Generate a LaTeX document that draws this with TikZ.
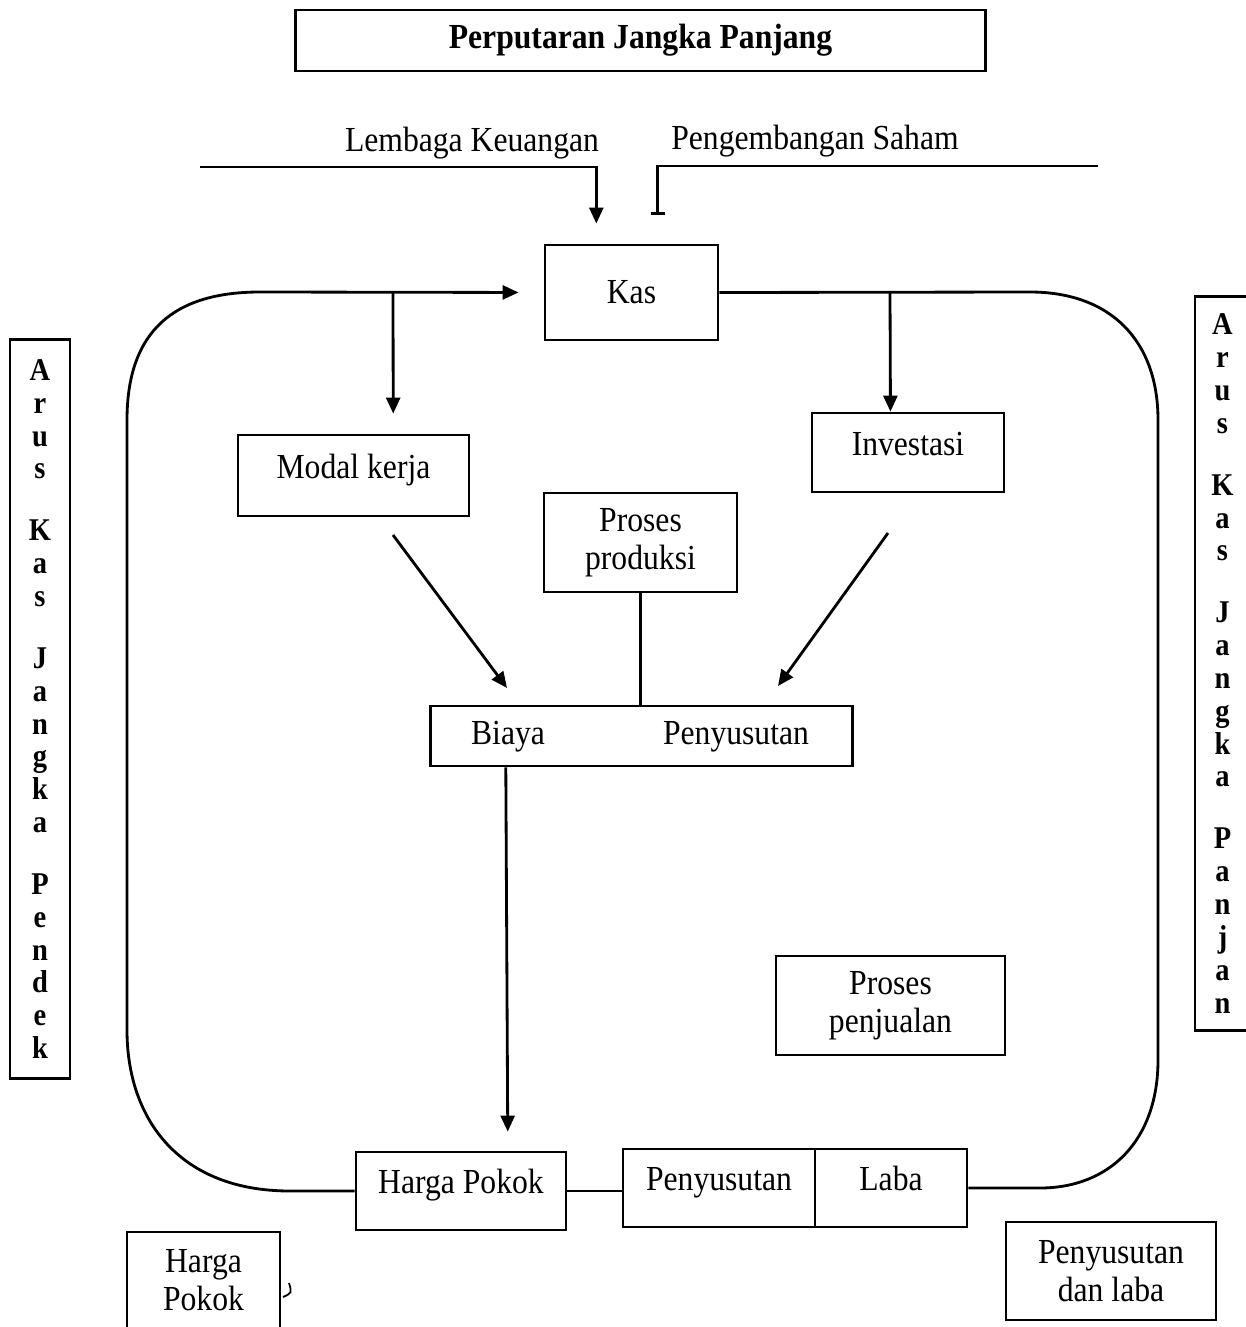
\documentclass[tikz,border=0pt]{standalone}
\usepackage{fontspec}
\setmainfont{Liberation Serif}[FakeStretch=0.9]
\usetikzlibrary{arrows.meta, calc}

\begin{document}
\begin{tikzpicture}[x=0.01cm, y=-0.01cm,
	kotak/.style={draw, line width=0.8pt, align=center, inner sep=0pt, font=\fontsize{10}{10.8}\selectfont},
	satu/.style={text height=0.25cm, text depth=0.2cm},
	teks/.style={inner sep=0pt, font=\fontsize{10}{10.8}\selectfont},
	garis/.style={line width=0.8pt},
	panah/.style={line width=0.8pt, -{Triangle[length=0.16cm, width=0.14cm]}},
	tegak/.style={draw, line width=0.8pt, align=center, inner sep=0pt, font=\fontsize{9}{9.33}\selectfont\bfseries}]
	\useasboundingbox (0,0) rectangle (1245,1327);
	\node[kotak, minimum width=6.89cm, minimum height=0.61cm, font=\fontsize{10}{12}\selectfont\bfseries] (judul) at (640.5,40.5) {Perputaran Jangka Panjang};
	\node[teks] (lembaga) at (472,143) {Lembaga Keuangan};
	\node[teks] (saham) at (815,141) {Pengembangan Saham};
	\node[kotak, minimum width=1.73cm, minimum height=0.95cm] (kas) at (631.5,292.5) {Kas};
	\node[kotak, satu, minimum width=2.31cm, minimum height=0.81cm] (modal) at (353.5,475.5) {Modal kerja};
	\node[kotak, satu, minimum width=1.92cm, minimum height=0.79cm] (invest) at (908,452.5) {Investasi};
	\node[kotak, minimum width=1.93cm, minimum height=0.99cm] (produksi) at (640.5,542.5) {Proses\\produksi};
	\node[kotak, minimum width=4.21cm, minimum height=0.60cm] (biayabox) at (641.5,736) {};
	\node[teks] (biaya) at (508,737) {Biaya};
	\node[teks] (susutbiaya) at (736,737) {Penyusutan};
	\node[kotak, minimum width=2.29cm, minimum height=0.99cm] (penjualan) at (890.5,1005.5) {Proses\\penjualan};
	\node[kotak, satu, minimum width=2.10cm, minimum height=0.78cm] (hpokok) at (461,1191) {Harga Pokok};
	\node[kotak, satu, minimum width=1.92cm, minimum height=0.78cm] (susut) at (719,1188) {Penyusutan};
	\node[kotak, satu, minimum width=1.52cm, minimum height=0.78cm] (laba) at (891,1188) {Laba};
	\node[kotak, minimum width=1.53cm, minimum height=0.96cm] (hpbawah) at (203.5,1280) {Harga\\Pokok};
	\node[kotak, minimum width=2.10cm, minimum height=0.98cm] (susutlaba) at (1111,1271) {Penyusutan\\dan laba};
	\node[tegak, minimum width=0.60cm, minimum height=7.38cm] (pendek) at (40,709) {A\\r\\u\\s\\[8.3pt]K\\a\\s\\[8.3pt]J\\a\\n\\g\\k\\a\\[8.3pt]P\\e\\n\\d\\e\\k};
	\node[tegak, minimum width=0.55cm, minimum height=7.33cm] (panjang) at (1222.5,663.5) {A\\r\\u\\s\\[8.3pt]K\\a\\s\\[8.3pt]J\\a\\n\\g\\k\\a\\[8.3pt]P\\a\\n\\j\\a\\n};
	\coordinate (lk) at (200,167);
	\coordinate (ps) at (1098,166);
	\coordinate (cabkiri) at (393,292);
	\coordinate (cabkanan) at (890,292);
	\coordinate (mkbawah) at (393,535);
	\coordinate (biayakiri) at (507,688);
	\coordinate (invbawah) at (888,533);
	\coordinate (biayakanan) at (778,686);
	\draw[panah, shorten >=0.2cm] (lk) -| ($(kas.north west)!0.3!(kas.north east)$);
	\draw[garis, -{Bar[width=0.14cm]}, shorten >=0.29cm] (ps) -| ($(kas.north west)!0.65!(kas.north east)$);
	\draw[panah, shorten >=0.25cm] (hpokok.west) -- (290,1191) .. controls (180,1191) and (127,1120) .. (127,1030) -- (127,420) .. controls (127,330) and (175,292) .. (260,292) -- (kas.west);
	\draw[garis] (kas.east) -- (1030,292) .. controls (1110,292) and (1158,340) .. (1158,420) -- (1158,1060) .. controls (1158,1140) and (1110,1188) .. (1040,1188) -- (laba.east);
	\draw[panah, shorten >=0.2cm] (cabkiri) -- ($(modal.north west)!0.67!(modal.north east)$);
	\draw[panah] (cabkanan) -- ($(invest.north west)!0.41!(invest.north east)$);
	\draw[panah] (mkbawah) -- (biayakiri);
	\draw[panah] (invbawah) -- (biayakanan);
	\draw[garis] (produksi.south) -- (produksi.south |- biayabox.north);
	\draw[panah, shorten >=0.19cm] ($(biayabox.south west)!0.18!(biayabox.south east)$) -- ($(hpokok.north west)!0.72!(hpokok.north east)$);
	\draw[garis] (hpokok.east) -- (hpokok.east -| susut.west);
	\draw[line width=0.5pt] (289,1283) .. controls (292,1293) .. (283,1297);
\end{tikzpicture}
\end{document}
